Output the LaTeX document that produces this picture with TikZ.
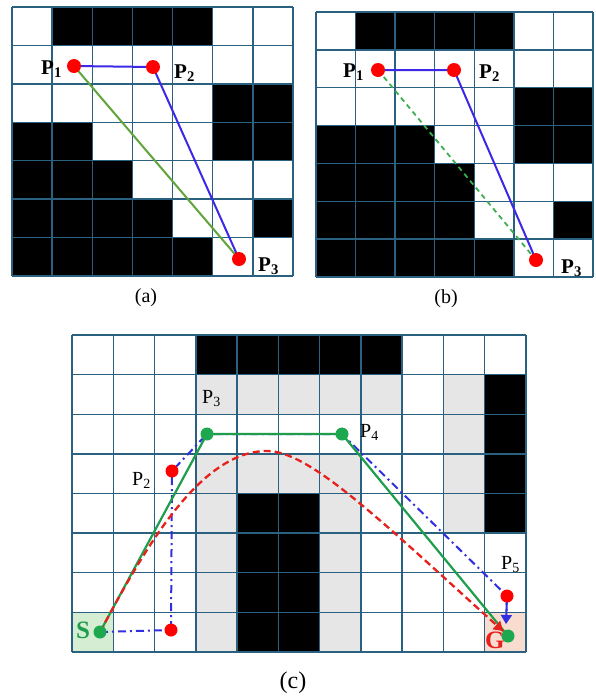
\documentclass[tikz,border=0pt]{standalone}
\usepackage{fontspec}
\setmainfont{Liberation Serif}
\usetikzlibrary{arrows.meta}
\definecolor{gridc}{RGB}{42,96,128}
\definecolor{dotred}{RGB}{255,0,0}
\definecolor{lblue}{RGB}{60,40,230}
\definecolor{lgreenA}{RGB}{95,165,60}
\definecolor{lgreenB}{RGB}{60,175,80}
\definecolor{cgreen}{RGB}{30,158,74}
\definecolor{cgreendot}{RGB}{29,168,79}
\definecolor{cblue}{RGB}{48,48,224}
\definecolor{cred}{RGB}{232,32,28}
\definecolor{cellgrey}{RGB}{230,230,230}
\definecolor{cellgreen}{RGB}{213,237,210}
\definecolor{cellpeach}{RGB}{247,220,207}
\begin{document}
\begin{tikzpicture}[x=1pt,y=-1pt,
  gridline/.style={draw=gridc,line width=1.4pt},
  reddot/.style={circle,fill=dotred,inner sep=0pt,minimum size=14pt},
  reddotc/.style={circle,fill=dotred,inner sep=0pt,minimum size=13pt},
  greendot/.style={circle,fill=cgreendot,inner sep=0pt,minimum size=13pt},
  lblAB/.style={inner sep=0pt,anchor=base west,font=\fontsize{21}{24}\selectfont\bfseries},
  lblC/.style={inner sep=0pt,anchor=base west,font=\fontsize{20}{24}\selectfont},
  lblSG/.style={inner sep=0pt,anchor=base west,font=\fontsize{25}{28}\selectfont\bfseries},
  capt/.style={inner sep=0pt,font=\fontsize{20}{24}\selectfont},
  captc/.style={inner sep=0pt,font=\fontsize{24}{28}\selectfont},
  bluepath/.style={draw=lblue,line width=2pt,line join=round},
  greenA/.style={draw=lgreenA,line width=2pt},
  greenB/.style={draw=lgreenB,line width=1.8pt,dash pattern=on 5pt off 4pt},
  cgreenpath/.style={draw=cgreen,line width=2.2pt,line join=round},
  cbluepath/.style={draw=cblue,line width=2pt,dash pattern=on 8pt off 4pt on 2pt off 4pt,line join=round},
  credpath/.style={draw=cred,line width=2.3pt,dash pattern=on 7pt off 4pt},
  tip/.style={-{Triangle[width=11pt,length=9pt]}}
]
\useasboundingbox (0,0) rectangle (596,697);
\fill[white] (0,0) rectangle (596,697);

% ---------- panel (a) ----------
\begin{scope}[shift={(12,7)},x=40.14pt,y=-38.43pt]
  \foreach \r/\c in {0/1,0/2,0/3,0/4,2/5,2/6,3/0,3/1,3/5,3/6,4/0,4/1,4/2,5/0,5/1,5/2,5/3,5/6,6/0,6/1,6/2,6/3,6/4}
    \fill[black] (\c,\r) rectangle ++(1,1);
  \foreach \i in {0,...,7} {
    \draw[gridline] (\i,0) -- (\i,7);
    \draw[gridline] (0,\i) -- (7,\i);
  }
\end{scope}
\coordinate (a1) at (74,66);
\coordinate (a2) at (153,67);
\coordinate (a3) at (239,259);
\draw[greenA] (a1) -- (a3);
\draw[bluepath] (a1) -- (a2) -- (a3);
\node[reddot] (da1) at (a1) {};
\node[reddot] (da2) at (a2) {};
\node[reddot] (da3) at (a3) {};
\node[lblAB] (la1) at (41,74) {P\textsubscript{1}};
\node[lblAB] (la2) at (174,78) {P\textsubscript{2}};
\node[lblAB] (la3) at (258,271) {P\textsubscript{3}};
\node[capt] (capa) at (146,298) {(a)};

% ---------- panel (b) ----------
\begin{scope}[shift={(316,12)},x=39.57pt,y=-37.86pt]
  \foreach \r/\c in {0/1,0/2,0/3,0/4,2/5,2/6,3/0,3/1,3/2,3/5,3/6,4/0,4/1,4/2,4/3,5/0,5/1,5/2,5/3,5/6,6/0,6/1,6/2,6/3,6/4}
    \fill[black] (\c,\r) rectangle ++(1,1);
  \foreach \i in {0,...,7} {
    \draw[gridline] (\i,0) -- (\i,7);
    \draw[gridline] (0,\i) -- (7,\i);
  }
\end{scope}
\coordinate (b1) at (378,70);
\coordinate (b2) at (454,70);
\coordinate (b3) at (536,260);
\draw[greenB] (b1) -- (b3);
\draw[bluepath] (b1) -- (b2) -- (b3);
\node[reddot] (db1) at (b1) {};
\node[reddot] (db2) at (b2) {};
\node[reddot] (db3) at (b3) {};
\node[lblAB] (lb1) at (343,77) {P\textsubscript{1}};
\node[lblAB] (lb2) at (479,78) {P\textsubscript{2}};
\node[lblAB] (lb3) at (561,273) {P\textsubscript{3}};
\node[capt] (capb) at (446,299) {(b)};

% ---------- panel (c) ----------
\begin{scope}[shift={(72,335)},x=41.27pt,y=-39.625pt]
  \foreach \r/\c in {1/3,1/4,1/5,1/6,1/7,1/9,2/9,3/9,4/9,3/3,3/4,3/5,3/6,4/3,4/6,5/3,5/6,6/3,6/6,7/3,7/6}
    \fill[cellgrey] (\c,\r) rectangle ++(1,1);
  \foreach \r/\c in {0/3,0/4,0/5,0/6,0/7,1/10,2/10,3/10,4/10,4/4,4/5,5/4,5/5,6/4,6/5,7/4,7/5}
    \fill[black] (\c,\r) rectangle ++(1,1);
  \fill[cellgreen] (0,7) rectangle ++(1,1);
  \fill[cellpeach] (10,7) rectangle ++(1,1);
  \foreach \i in {0,...,11} \draw[gridline] (\i,0) -- (\i,8);
  \foreach \j in {0,...,8} \draw[gridline] (0,\j) -- (11,\j);
\end{scope}
\coordinate (S) at (100,632);
\coordinate (Q) at (171,630);
\coordinate (P2) at (172,471);
\coordinate (P3) at (207,434);
\coordinate (P4) at (342,434);
\coordinate (P5) at (507,596);
\coordinate (G) at (508,636);
\coordinate (Gb) at (506,624);
\coordinate (Gr) at (503,631);
\coordinate (Pk) at (267,451);
\draw[cbluepath] (S) -- (Q) -- (P2) -- (P3) -- (P4) -- (P5) -- (Gb);
\draw[draw=cblue,line width=2pt,tip] (P5) -- (Gb);
\draw[cgreenpath] (S) -- (P3) -- (P4) -- (G);
\draw[credpath] (S) .. controls (145,548) and (200,451) .. (Pk)
   .. controls (310,451) and (380,520) .. (Gr);
\draw[draw=cred,line width=2.3pt,tip] (Gr) ++(-6,-5.4) -- (Gr);
\node[greendot] (dS) at (S) {};
\node[greendot] (dP3) at (P3) {};
\node[greendot] (dP4) at (P4) {};
\node[greendot] (dG) at (G) {};
\node[reddotc] (dQ) at (Q) {};
\node[reddotc] (dP2) at (P2) {};
\node[reddotc] (dP5) at (P5) {};
\node[lblC] (lP2) at (132,485) {P\textsubscript{2}};
\node[lblC] (lP3) at (202,403) {P\textsubscript{3}};
\node[lblC] (lP4) at (360,437) {P\textsubscript{4}};
\node[lblC] (lP5) at (501,569) {P\textsubscript{5}};
\node[lblSG,text=cgreen] (lS) at (76,638) {S};
\node[lblSG,text=cred] (lG) at (485,648) {G};
\node[captc] (capc) at (293,683) {(c)};
\end{tikzpicture}
\end{document}
